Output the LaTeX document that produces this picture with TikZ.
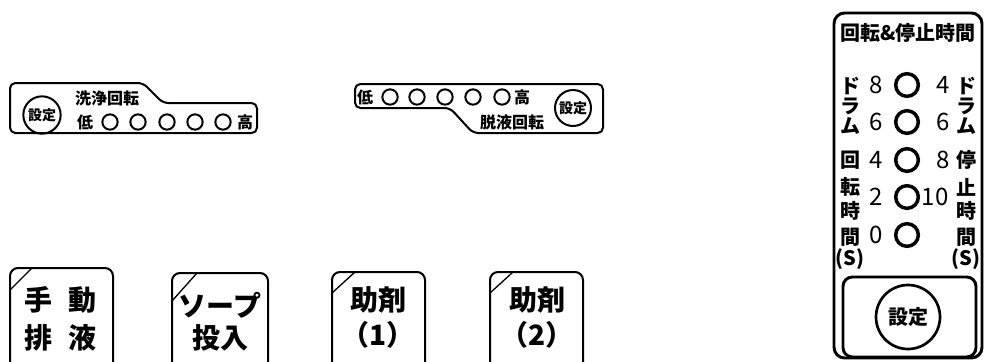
\documentclass[tikz,border=0pt]{standalone}
\usepackage{fontspec}
\setmainfont{Noto Sans CJK JP}
\usetikzlibrary{positioning}

\newcommand\smallfont{\fontsize{12}{12}\bfseries\selectfont}
\newcommand\setfont{\fontsize{10.5}{10.5}\bfseries\selectfont}
\newcommand\btnfont{\fontsize{21}{21}\bfseries\selectfont}
\newcommand\panelfont{\fontsize{15}{15}\bfseries\selectfont}
\newcommand\numfont{\fontsize{18}{18}\selectfont}

\begin{document}
\begin{tikzpicture}[x=0.75pt,y=-0.75pt,line width=1.5pt,
    lamp/.style={circle,draw,minimum size=11.5pt,inner sep=0pt},
    bigLamp/.style={circle,draw,line width=2.6pt,minimum size=17pt,inner sep=0pt},
    setBtn/.style={circle,draw,inner sep=0pt,font=\setfont},
    txt/.style={inner sep=0pt}]
    \useasboundingbox (0,0) rectangle (984,361);
    \clip (0,0) rectangle (984,361);
    % wash speed panel
    \draw[rounded corners=4pt] (10,83) -- (143,83) -- (163,103) -- (257,103) -- (257,133) -- (10,133) -- cycle;
    \node[setBtn,minimum size=28pt] (washSet) at (42,115) {設定};
    \node[txt,font=\smallfont] (washLbl) at (107,98) {洗浄回転};
    \node[txt,font=\smallfont] (washLow) at (85,122) {低};
    \foreach \i/\x in {1/110,2/138,3/167,4/195,5/223} {
      \node[lamp] (wl\i) at (\x,122) {};
    }
    \node[txt,font=\smallfont] (washHigh) at (245,122) {高};
    % spin speed panel
    \draw[rounded corners=4pt] (355,84) -- (603,84) -- (603,133) -- (473,133) -- (450,108) -- (355,108) -- cycle;
    \node[txt,font=\smallfont] (spinLow) at (365,97) {低};
    \foreach \i/\x in {1/390,2/417,3/445,4/473,5/502} {
      \node[lamp] (sl\i) at (\x,97) {};
    }
    \node[txt,font=\smallfont] (spinHigh) at (522,97) {高};
    \node[txt,font=\smallfont] (spinLbl) at (512,122) {脱液回転};
    \node[setBtn,minimum size=27pt] (spinSet) at (573,108) {設定};
    % push buttons
    \draw[rounded corners=6pt] (10,375) -- (10,268) -- (113,268) -- (113,375);
    \draw[line width=1pt] (10,290) -- (32,268);
    \node[txt,font=\btnfont] (bA1) at (38,300) {手};
    \node[txt,font=\btnfont] (bA2) at (82,300) {動};
    \node[txt,font=\btnfont] (bA3) at (38,338) {排};
    \node[txt,font=\btnfont] (bA4) at (82,338) {液};
    \draw[rounded corners=6pt] (172,375) -- (172,273) -- (268,273) -- (268,375);
    \draw[line width=1pt] (172,301) -- (197,273);
    \node[txt,font=\btnfont] (bB1) at (220,305) {ソープ};
    \node[txt,font=\btnfont] (bB2) at (220,338) {投入};
    \draw[rounded corners=6pt] (332,375) -- (332,272) -- (425,272) -- (425,375);
    \draw[line width=1pt] (332,293) -- (355,272);
    \node[txt,font=\btnfont] (bC1) at (378,300) {助剤};
    \node[txt,font=\btnfont] (bC2) at (378,335) {（1）};
    \draw[rounded corners=6pt] (490,375) -- (490,272) -- (583,272) -- (583,375);
    \draw[line width=1pt] (490,293) -- (513,272);
    \node[txt,font=\btnfont] (bD1) at (537,300) {助剤};
    \node[txt,font=\btnfont] (bD2) at (537,335) {（2）};
    % drum timer panel
    \draw[line width=2.2pt,rounded corners=8pt] (834,13) rectangle (982,358);
    \node[txt,font=\panelfont] (drumTitle) at (908,33) {回転\&停止時間};
    \foreach \c/\y [count=\k] in {ド/86,ラ/106,ム/126,回/160,転/187,時/211,間/237,(S)/259} {
      \node[txt,font=\panelfont] (runCh\k) at (850,\y) {\c};
    }
    \foreach \c/\y [count=\k] in {ド/86,ラ/106,ム/126,停/160,止/187,時/211,間/237,(S)/259} {
      \node[txt,font=\panelfont] (stopCh\k) at (966,\y) {\c};
    }
    \foreach \a/\b/\xb/\y [count=\k] in {8/4/943/85,6/6/943/122,4/8/943/160,2/10/935/197,0//943/235} {
      \node[bigLamp] (dl\k) at (907,\y) {};
      \node[txt,font=\numfont] (runN\k) at (876,\y) {\a};
      \node[txt,font=\numfont] (stopN\k) at (\xb,\y) {\b};
    }
    \draw[line width=2.2pt,rounded corners=7pt] (843,277) rectangle (976,357);
    \node[setBtn,line width=2pt,minimum size=48pt,font=\panelfont] (drumSet) at (908,317) {設定};
  \end{tikzpicture}
\end{document}
